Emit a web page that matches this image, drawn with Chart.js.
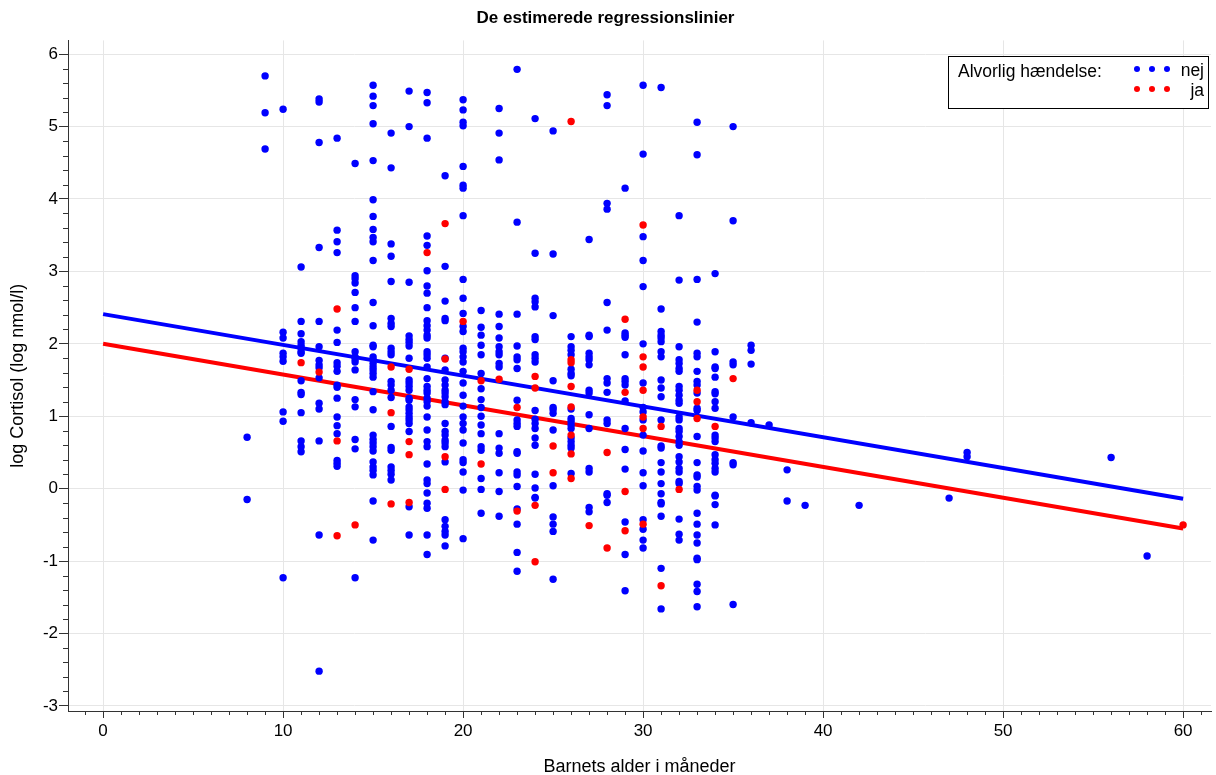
<!DOCTYPE html>
<html>
<head>
<meta charset="utf-8">
<title>De estimerede regressionslinier</title>
<script src="https://cdn.jsdelivr.net/npm/chart.js@4.4.1/dist/chart.umd.min.js"></script>
<style>
  html, body { margin: 0; padding: 0; background: #fff; }
  #wrap { width: 1216px; height: 775px; }
</style>
</head>
<body>
<div id="wrap"><canvas id="mycanvas" width="1216" height="775"></canvas></div>
<script>
// alder (måneder) og log cortisol, grupperet pr. alder
var nejAlder = [8, 9, 10, 11, 12, 13, 14, 15, 16, 17, 18, 19, 20, 21, 22, 23, 24, 25, 26, 27, 28, 29, 30, 31, 32, 33, 34, 35, 36, 37, 38, 39, 42, 47, 48, 56, 58];
var nejCortisol = [
  [0.71, -0.15],
  [5.70, 5.19, 4.69],
  [5.24, 2.16, 2.08, 1.87, 1.82, 1.76, 1.06, 0.93, -1.23],
  [3.06, 2.31, 2.14, 2.03, 1.98, 1.94, 1.89, 1.87, 1.49, 1.33, 1.30, 1.05, 0.66, 0.58, 0.51],
  [5.38, 5.34, 4.78, 3.33, 2.31, 1.96, 1.77, 1.71, 1.67, 1.53, 1.18, 1.10, 0.66, -0.64, -2.52],
  [4.84, 3.57, 3.41, 3.26, 2.19, 2.02, 1.74, 1.69, 1.62, 1.43, 1.40, 1.25, 0.99, 0.87, 0.76, 0.39, 0.35, 0.31],
  [4.49, 2.94, 2.90, 2.84, 2.71, 2.50, 2.31, 1.89, 1.82, 1.79, 1.75, 1.64, 1.23, 1.13, 0.68, 0.55, -1.23],
  [5.57, 5.42, 5.29, 5.04, 4.53, 3.99, 3.76, 3.58, 3.47, 3.41, 3.15, 2.57, 2.25, 1.98, 1.96, 1.82, 1.78, 1.73, 1.68, 1.64, 1.59, 1.54, 1.34, 1.09, 0.74, 0.68, 0.63, 0.58, 0.52, 0.37, 0.30, 0.25, 0.19, -0.17, -0.71],
  [4.91, 4.43, 3.38, 3.21, 2.86, 2.35, 2.28, 2.24, 1.94, 1.89, 1.85, 1.48, 1.43, 1.36, 1.26, 0.86, 0.57, 0.53, 0.30, 0.25, 0.20, 0.12],
  [5.49, 5.00, 2.85, 2.11, 2.06, 2.02, 1.97, 1.80, 1.50, 1.46, 1.41, 1.36, 1.25, 1.22, 1.13, 1.09, 1.04, 0.99, 0.95, 0.90, 0.79, -0.25, -0.64],
  [5.47, 5.33, 4.84, 3.49, 3.36, 3.01, 2.80, 2.70, 2.50, 2.32, 2.25, 2.19, 2.12, 2.08, 1.89, 1.85, 1.80, 1.68, 1.52, 1.41, 1.36, 1.32, 1.25, 1.20, 1.14, 0.99, 0.81, 0.65, 0.58, 0.34, 0.12, 0.07, -0.06, -0.20, -0.27, -0.64, -0.91],
  [4.32, 3.07, 2.59, 2.35, 2.32, 1.80, 1.64, 1.50, 1.43, 1.36, 1.32, 1.27, 1.20, 1.16, 0.90, 0.79, 0.74, 0.67, 0.63, 0.58, 0.37, -0.43, -0.52, -0.59, -0.64, -0.79],
  [5.37, 5.23, 5.06, 5.01, 4.45, 4.19, 4.15, 3.77, 2.89, 2.63, 2.42, 2.24, 2.17, 1.94, 1.89, 1.82, 1.75, 1.62, 1.46, 1.29, 1.14, 0.99, 0.90, 0.81, 0.63, 0.40, 0.36, 0.23, -0.02, -0.69],
  [2.46, 2.23, 2.12, 1.98, 1.85, 1.59, 1.38, 1.23, 1.12, 1.00, 0.88, 0.76, 0.58, 0.53, 0.14, -0.01, -0.34],
  [5.25, 4.91, 4.54, 2.41, 2.24, 2.08, 1.96, 1.89, 1.85, 1.73, 1.68, 0.76, 0.56, 0.49, 0.22, -0.04, -0.38],
  [5.79, 3.68, 2.41, 1.97, 1.82, 1.78, 1.66, 1.22, 0.95, 0.90, 0.86, 0.51, 0.49, 0.23, 0.19, 0.03, -0.28, -0.49, -0.88, -1.14],
  [5.11, 3.25, 2.63, 2.58, 2.51, 2.10, 2.06, 1.85, 1.80, 1.75, 1.08, 0.96, 0.90, 0.83, 0.70, 0.60, 0.20, 0.01, -0.12, -0.13],
  [4.94, 3.24, 2.39, 1.49, 1.12, 1.09, 1.04, 0.81, 0.04, -0.39, -0.49, -0.59, -1.25],
  [2.10, 1.96, 1.91, 1.85, 1.65, 1.59, 1.56, 1.10, 0.97, 0.93, 0.88, 0.83, 0.70, 0.65, 0.60, 0.56, 0.21],
  [3.44, 2.12, 2.10, 1.87, 1.82, 1.78, 1.71, 1.36, 1.32, 1.02, 0.83, 0.28, 0.23, -0.26, -0.32],
  [5.44, 5.29, 3.94, 3.86, 2.57, 2.19, 1.52, 1.46, 1.33, 0.95, 0.90, -0.07, -0.09, -0.19],
  [4.15, 2.15, 2.12, 2.09, 1.85, 1.52, 1.48, 1.43, 1.21, 0.83, 0.54, 0.27, -0.46, -0.91, -1.41],
  [5.57, 4.62, 3.48, 3.15, 2.79, 2.00, 1.46, 1.12, 1.06, 0.95, 0.74, 0.52, 0.22, 0.04, -0.43, -0.56, -0.71, -0.82],
  [5.54, 2.48, 2.17, 2.12, 2.08, 2.03, 1.89, 1.82, 1.50, 1.39, 1.27, 0.95, 0.59, 0.56, 0.36, 0.23, 0.07, -0.07, -0.19, -0.21, -0.38, -1.10, -1.66],
  [3.77, 2.88, 1.96, 1.78, 1.73, 1.66, 1.62, 1.41, 1.36, 1.29, 1.22, 1.18, 0.99, 0.95, 0.83, 0.79, 0.72, 0.65, 0.60, 0.44, 0.37, 0.28, 0.23, 0.10, 0.07, -0.42, -0.63, -0.71],
  [5.06, 4.61, 2.89, 2.30, 1.87, 1.82, 1.62, 1.48, 1.43, 1.32, 1.11, 1.08, 0.72, 0.36, 0.19, 0.16, 0.03, -0.02, -0.34, -0.49, -0.64, -0.75, -0.96, -0.98, -1.32, -1.42, -1.63],
  [2.97, 1.89, 1.68, 1.66, 1.54, 1.34, 1.31, 1.20, 1.11, 0.74, 0.70, 0.65, 0.47, 0.40, 0.35, 0.28, 0.23, -0.09, -0.10, -0.22, -0.50],
  [5.00, 3.70, 1.75, 1.71, 0.99, 0.36, 0.33, -1.60],
  [1.98, 1.91, 1.72, 0.91],
  [0.88],
  [0.26, -0.17],
  [-0.23],
  [-0.23],
  [-0.13],
  [0.50, 0.44],
  [0.43],
  [-0.93]
];

var jaAlder = [11, 12, 13, 14, 16, 17, 18, 19, 20, 21, 22, 23, 24, 25, 26, 27, 28, 29, 30, 31, 32, 33, 34, 35, 60];
var jaCortisol = [
  [1.74],
  [1.61],
  [2.48, 0.66, -0.65],
  [-0.50],
  [1.68, 1.05, -0.21],
  [1.65, 0.65, 0.47, -0.19],
  [3.26],
  [3.66, 1.79, 0.44, -0.01],
  [2.31],
  [1.49, 0.34],
  [1.51],
  [1.12, -0.31],
  [1.55, 1.39, -0.23, -1.01],
  [0.59, 0.22],
  [5.07, 1.78, 1.74, 1.41, 1.13, 0.74, 0.48, 0.14],
  [-0.51],
  [0.50, -0.82],
  [2.34, 1.33, -0.04, -0.58],
  [3.64, 1.82, 1.68, 1.36, 0.99, 0.83, -0.49],
  [0.86, -1.34],
  [-0.01],
  [1.36, 1.20, 0.97],
  [0.86],
  [1.52],
  [-0.50]
];

// regressionslinier (endepunkter)
var linieAlder = [0, 60];
var linieNej = [2.41, -0.14];
var linieJa = [2.00, -0.55];

var xTicks = [0, 10, 20, 30, 40, 50, 60];
var yTicks = [-3, -2, -1, 0, 1, 2, 3, 4, 5, 6];

var FONT = '"Liberation Sans", Arial, Helvetica, sans-serif';

function toPoints(ages, values) {
  var pts = [];
  for (var i in ages) {
    for (var j in values[i]) {
      pts.push({ x: ages[i], y: values[i][j] });
    }
  }
  return pts;
}

function linePoints(ys) {
  return linieAlder.map(function (a, i) { return { x: a, y: ys[i] }; });
}

// små mellemstreger på akserne
var minorTicks = {
  id: 'minorTicks',
  afterDraw: function (chart) {
    var ctx = chart.ctx, x = chart.scales.x, y = chart.scales.y, area = chart.chartArea;
    ctx.save();
    ctx.strokeStyle = '#333';
    ctx.lineWidth = 1;
    ctx.beginPath();
    for (var v = Math.ceil(x.min); v <= x.max; v++) {
      if (v % 10 === 0) continue;
      var px = Math.round(x.getPixelForValue(v)) + 0.5;
      ctx.moveTo(px, area.bottom);
      ctx.lineTo(px, area.bottom + 4);
    }
    for (var k = -15; k <= 30; k++) {
      if (k % 5 === 0) continue;
      var py = Math.round(y.getPixelForValue(k * 0.2)) + 0.5;
      ctx.moveTo(area.left - 5, py);
      ctx.lineTo(area.left, py);
    }
    ctx.stroke();
    ctx.restore();
  }
};

// forklaringsboks øverst til højre
var legendBox = {
  id: 'legendBox',
  afterDraw: function (chart) {
    var ctx = chart.ctx;
    var right = chart.width - 8, top = 56;
    var left = right - 260, bottom = top + 52;
    ctx.save();
    ctx.fillStyle = '#fff';
    ctx.fillRect(left, top, right - left, bottom - top);
    ctx.strokeStyle = '#000';
    ctx.lineWidth = 1;
    ctx.strokeRect(left + 0.5, top + 0.5, right - left, bottom - top);
    ctx.font = '17.5px ' + FONT;
    ctx.fillStyle = '#000';
    ctx.textBaseline = 'middle';
    ctx.textAlign = 'left';
    ctx.fillText('Alvorlig hændelse:', left + 10, top + 16);
    var rows = [
      { label: chart.data.datasets[0].label, color: chart.data.datasets[0].backgroundColor, y: top + 13 },
      { label: chart.data.datasets[1].label, color: chart.data.datasets[1].backgroundColor, y: top + 33 }
    ];
    rows.forEach(function (r) {
      ctx.fillStyle = r.color;
      [right - 71, right - 56, right - 41].forEach(function (cx) {
        ctx.beginPath();
        ctx.arc(cx, r.y, 3, 0, Math.PI * 2);
        ctx.fill();
      });
      ctx.fillStyle = '#000';
      ctx.textAlign = 'right';
      ctx.fillText(r.label, right - 4, r.y + 2);
    });
    ctx.restore();
  }
};

var ctx = document.getElementById('mycanvas');

var scatterChart = new Chart(ctx, {
  type: 'scatter',
  data: {
    datasets: [
      {
        label: 'nej',
        data: toPoints(nejAlder, nejCortisol),
        backgroundColor: '#0000ff',
        borderColor: '#0000ff',
        borderWidth: 0,
        pointRadius: 3.7,
        order: 1
      },
      {
        label: 'ja',
        data: toPoints(jaAlder, jaCortisol),
        backgroundColor: '#ff0000',
        borderColor: '#ff0000',
        borderWidth: 0,
        pointRadius: 3.7,
        order: 0
      },
      {
        label: 'linie nej',
        data: linePoints(linieNej),
        showLine: true,
        borderColor: '#0000ff',
        borderWidth: 4,
        pointRadius: 0,
        order: 3
      },
      {
        label: 'linie ja',
        data: linePoints(linieJa),
        showLine: true,
        borderColor: '#ff0000',
        borderWidth: 4,
        pointRadius: 0,
        order: 2
      }
    ]
  },
  options: {
    responsive: false,
    animation: false,
    devicePixelRatio: 1,
    layout: { padding: { left: 0, right: 5, top: 0, bottom: 0 } },
    plugins: {
      legend: { display: false },
      tooltip: { enabled: false },
      title: {
        display: true,
        text: 'De estimerede regressionslinier',
        color: '#000',
        font: { family: FONT, size: 17, weight: 'bold' },
        padding: { top: 8, bottom: 12 }
      }
    },
    scales: {
      x: {
        type: 'linear',
        min: -1.95,
        max: 61.55,
        afterBuildTicks: function (s) { s.ticks = xTicks.map(function (v) { return { value: v }; }); },
        afterFit: function (s) { s.height = 64; },
        grid: { color: '#e6e6e6', tickColor: '#333', tickLength: 7 },
        border: { color: '#333' },
        ticks: { color: '#000', font: { family: FONT, size: 17 }, padding: 3, maxRotation: 0 },
        title: {
          display: true,
          text: 'Barnets alder i måneder',
          color: '#000',
          font: { family: FONT, size: 18 },
          padding: { top: -3, bottom: -3 }
        }
      },
      y: {
        type: 'linear',
        min: -3.07,
        max: 6.19,
        afterBuildTicks: function (s) { s.ticks = yTicks.map(function (v) { return { value: v }; }); },
        afterFit: function (s) { s.width = 68; },
        grid: { color: '#e6e6e6', tickColor: '#333', tickLength: 9 },
        border: { color: '#333' },
        ticks: { color: '#000', font: { family: FONT, size: 17 }, padding: 1 },
        title: {
          display: true,
          text: 'log Cortisol (log nmol/l)',
          color: '#000',
          font: { family: FONT, size: 18 },
          padding: { top: 7, bottom: 7 }
        }
      }
    }
  },
  plugins: [minorTicks, legendBox]
});
</script>
</body>
</html>
